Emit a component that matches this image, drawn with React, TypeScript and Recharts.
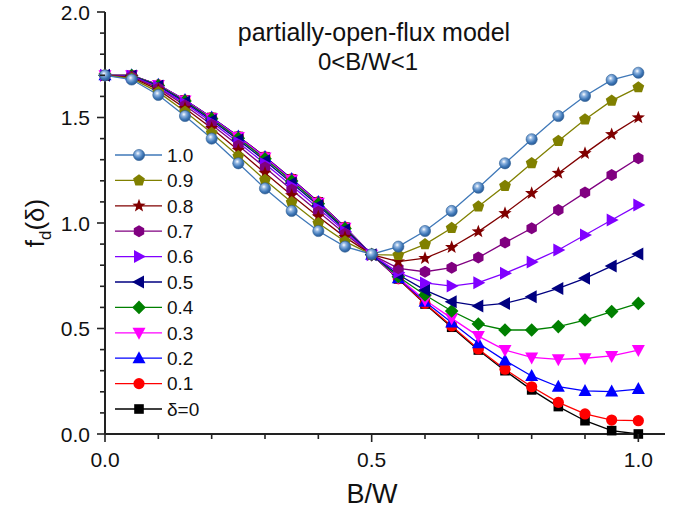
import React from 'react';
import { Legend, Line, LineChart, XAxis, YAxis } from 'recharts';

const xValues = [0, 0.05, 0.1, 0.15, 0.2, 0.25, 0.3, 0.35, 0.4, 0.45, 0.5, 0.55, 0.6, 0.65, 0.7, 0.75, 0.8, 0.85, 0.9, 0.95, 1.0];

const s10 = [1.70, 1.68, 1.607, 1.507, 1.40, 1.283, 1.164, 1.057, 0.962, 0.888, 0.852, 0.888, 0.962, 1.057, 1.167, 1.283, 1.397, 1.507, 1.602, 1.678, 1.712];
const s09 = [1.70, 1.685, 1.62, 1.528, 1.427, 1.317, 1.204, 1.098, 0.999, 0.913, 0.85, 0.848, 0.899, 0.976, 1.078, 1.176, 1.283, 1.389, 1.491, 1.580, 1.643];
const s08 = [1.70, 1.69, 1.631, 1.544, 1.449, 1.345, 1.237, 1.131, 1.03, 0.933, 0.85, 0.817, 0.833, 0.885, 0.959, 1.046, 1.141, 1.236, 1.330, 1.420, 1.499];
const s07 = [1.70, 1.693, 1.639, 1.557, 1.466, 1.367, 1.263, 1.157, 1.053, 0.949, 0.85, 0.785, 0.769, 0.788, 0.836, 0.907, 0.975, 1.062, 1.144, 1.227, 1.307];
const s06 = [1.70, 1.696, 1.644, 1.566, 1.478, 1.382, 1.281, 1.176, 1.07, 0.96, 0.85, 0.765, 0.716, 0.701, 0.717, 0.762, 0.815, 0.872, 0.943, 1.014, 1.085];
const s05 = [1.70, 1.697, 1.649, 1.573, 1.487, 1.394, 1.295, 1.19, 1.083, 0.968, 0.85, 0.755, 0.682, 0.627, 0.607, 0.619, 0.651, 0.690, 0.738, 0.796, 0.853];
const s04 = [1.70, 1.699, 1.652, 1.578, 1.494, 1.402, 1.304, 1.199, 1.091, 0.974, 0.85, 0.745, 0.659, 0.583, 0.521, 0.493, 0.493, 0.509, 0.540, 0.580, 0.619];
const s03 = [1.70, 1.70, 1.654, 1.581, 1.497, 1.407, 1.31, 1.205, 1.096, 0.978, 0.85, 0.740, 0.635, 0.548, 0.464, 0.398, 0.363, 0.354, 0.359, 0.370, 0.398];
const s02 = [1.70, 1.70, 1.655, 1.583, 1.50, 1.41, 1.313, 1.208, 1.099, 0.98, 0.85, 0.738, 0.627, 0.528, 0.430, 0.348, 0.275, 0.224, 0.204, 0.201, 0.213];
const s01 = [1.70, 1.70, 1.655, 1.583, 1.50, 1.41, 1.314, 1.209, 1.10, 0.98, 0.85, 0.736, 0.619, 0.512, 0.403, 0.307, 0.224, 0.150, 0.095, 0.066, 0.063];
const s00 = [1.70, 1.70, 1.655, 1.583, 1.50, 1.41, 1.314, 1.209, 1.10, 0.98, 0.85, 0.735, 0.616, 0.506, 0.398, 0.300, 0.209, 0.130, 0.063, 0.016, 0.0];

const xTicks = [0, 0.1, 0.2, 0.3, 0.4, 0.5, 0.6, 0.7, 0.8, 0.9, 1.0];
const yTicks = [0, 0.1, 0.2, 0.3, 0.4, 0.5, 0.6, 0.7, 0.8, 0.9, 1.0, 1.1, 1.2, 1.3, 1.4, 1.5, 1.6, 1.7, 1.8, 1.9, 2.0];
const xMajor = [0, 0.5, 1.0];
const yMajor = [0, 0.5, 1.0, 1.5, 2.0];

type Shape = 'sphere' | 'pentagon' | 'star' | 'hexagon' | 'right' | 'left' | 'diamond' | 'down' | 'up' | 'circle' | 'square';

// legend order, top to bottom
const series: { key: string; name: string; color: string; shape: Shape; values: number[] }[] = [
  { key: 's10', name: '1.0', color: '#3f78b8', shape: 'sphere', values: s10 },
  { key: 's09', name: '0.9', color: '#808000', shape: 'pentagon', values: s09 },
  { key: 's08', name: '0.8', color: '#800000', shape: 'star', values: s08 },
  { key: 's07', name: '0.7', color: '#800080', shape: 'hexagon', values: s07 },
  { key: 's06', name: '0.6', color: '#8000ff', shape: 'right', values: s06 },
  { key: 's05', name: '0.5', color: '#000080', shape: 'left', values: s05 },
  { key: 's04', name: '0.4', color: '#008000', shape: 'diamond', values: s04 },
  { key: 's03', name: '0.3', color: '#ff00ff', shape: 'down', values: s03 },
  { key: 's02', name: '0.2', color: '#0000ff', shape: 'up', values: s02 },
  { key: 's01', name: '0.1', color: '#ff0000', shape: 'circle', values: s01 },
  { key: 's00', name: 'δ=0', color: '#000000', shape: 'square', values: s00 },
];

const data = xValues.map((x, i) => {
  const row: Record<string, number> = { x };
  series.forEach((s) => {
    row[s.key] = s.values[i];
  });
  return row;
});

const FONT = '"Liberation Sans", Arial, Helvetica, sans-serif';

const poly = (cx: number, cy: number, n: number, r: number, start: number) =>
  Array.from({ length: n }, (_, k) => {
    const a = ((start + (360 / n) * k) * Math.PI) / 180;
    return `${cx + r * Math.cos(a)},${cy + r * Math.sin(a)}`;
  }).join(' ');

const starPts = (cx: number, cy: number, ro: number, ri: number) =>
  Array.from({ length: 10 }, (_, k) => {
    const a = ((-90 + 36 * k) * Math.PI) / 180;
    const r = k % 2 === 0 ? ro : ri;
    return `${cx + r * Math.cos(a)},${cy + r * Math.sin(a)}`;
  }).join(' ');

const Marker = ({ shape, cx, cy, color }: { shape: Shape; cx: number; cy: number; color: string }) => {
  switch (shape) {
    case 'sphere':
      return <circle cx={cx} cy={cy} r={5.6} fill="url(#sphereGrad)" stroke="#2f5f96" strokeWidth={0.6} />;
    case 'pentagon':
      return <polygon points={poly(cx, cy, 5, 6.2, -90)} fill={color} />;
    case 'star':
      return <polygon points={starPts(cx, cy, 7, 2.9)} fill={color} />;
    case 'hexagon':
      return <polygon points={poly(cx, cy, 6, 6, -90)} fill={color} />;
    case 'right':
      return <polygon points={`${cx + 7},${cy} ${cx - 5},${cy - 6.5} ${cx - 5},${cy + 6.5}`} fill={color} />;
    case 'left':
      return <polygon points={`${cx - 7},${cy} ${cx + 5},${cy - 6.5} ${cx + 5},${cy + 6.5}`} fill={color} />;
    case 'diamond':
      return <polygon points={`${cx},${cy - 6.8} ${cx + 6.8},${cy} ${cx},${cy + 6.8} ${cx - 6.8},${cy}`} fill={color} />;
    case 'down':
      return <polygon points={`${cx - 6.5},${cy - 5} ${cx + 6.5},${cy - 5} ${cx},${cy + 7}`} fill={color} />;
    case 'up':
      return <polygon points={`${cx - 6.5},${cy + 5} ${cx + 6.5},${cy + 5} ${cx},${cy - 7}`} fill={color} />;
    case 'circle':
      return <circle cx={cx} cy={cy} r={5.6} fill={color} />;
    default:
      return <rect x={cx - 4.8} y={cy - 4.8} width={9.6} height={9.6} fill={color} />;
  }
};

const near = (v: number, list: number[]) => list.some((m) => Math.abs(m - v) < 1e-6);

const XTick = (props: any) => {
  const { x, y, payload } = props;
  const major = near(payload.value, xMajor);
  return (
    <g>
      <line x1={x} y1={y} x2={x} y2={y + (major ? 8 : 5)} stroke="#222" strokeWidth={1.6} />
      {major && (
        <text x={x} y={y + 33} textAnchor="middle" fontSize={21} fill="#111" fontFamily={FONT}>
          {payload.value.toFixed(1)}
        </text>
      )}
    </g>
  );
};

const YTick = (props: any) => {
  const { x, y, payload } = props;
  const major = near(payload.value, yMajor);
  return (
    <g>
      <line x1={x - (major ? 8 : 5)} y1={y} x2={x} y2={y} stroke="#222" strokeWidth={1.6} />
      {major && (
        <text x={x - 15} y={y} dy="0.36em" textAnchor="end" fontSize={21} fill="#111" fontFamily={FONT}>
          {payload.value.toFixed(1)}
        </text>
      )}
    </g>
  );
};

const LegendBox = () => (
  <svg width={90} height={285} style={{ display: 'block' }}>
    {series.map((s, i) => {
      const cy = 13 + i * 25.4;
      return (
        <g key={s.key}>
          <line x1={3} y1={cy} x2={50} y2={cy} stroke={s.color} strokeWidth={1.3} />
          <Marker shape={s.shape} cx={27} cy={cy} color={s.color} />
          <text x={55} y={cy} dy="0.36em" fontSize={19} fill="#111" fontFamily={FONT}>
            {s.name}
          </text>
        </g>
      );
    })}
  </svg>
);

export default function App() {
  return (
    <div style={{ position: 'absolute', left: 0, top: 0, width: 690, height: 513, background: '#fff' }}>
      <LineChart
        width={690}
        height={513}
        data={data}
        margin={{ top: 12, right: 25, bottom: 49, left: 45 }}
        style={{ fontFamily: FONT }}
      >
        <defs>
          <radialGradient id="sphereGrad" cx="40%" cy="35%" r="65%">
            <stop offset="0%" stopColor="#ffffff" />
            <stop offset="30%" stopColor="#8fb4e0" />
            <stop offset="70%" stopColor="#3f78b8" />
            <stop offset="100%" stopColor="#2a5a94" />
          </radialGradient>
        </defs>
        <XAxis
          type="number"
          dataKey="x"
          domain={[0, 1.05]}
          ticks={xTicks}
          interval={0}
          height={30}
          tickSize={0}
          tickMargin={0}
          tickLine={false}
          axisLine={{ stroke: '#222', strokeWidth: 2 }}
          tick={<XTick />}
          label={{
            content: () => (
              <text x={372} y={503} textAnchor="middle" fontSize={27} fill="#111" fontFamily={FONT}>
                B/W
              </text>
            ),
          }}
        />
        <YAxis
          type="number"
          domain={[0, 2]}
          ticks={yTicks}
          interval={0}
          width={60}
          tickSize={0}
          tickMargin={0}
          tickLine={false}
          axisLine={{ stroke: '#222', strokeWidth: 2 }}
          tick={<YTick />}
          label={{
            content: () => (
              <text transform="translate(44,223) rotate(-90)" textAnchor="middle" fontSize={26} fill="#111" fontFamily={FONT}>
                f
                <tspan fontSize={17} dy={7}>d</tspan>
                <tspan dy={-7}>(δ)</tspan>
              </text>
            ),
          }}
        />
        <Legend
          layout="horizontal"
          verticalAlign="middle"
          align="center"
          wrapperStyle={{ left: 112, top: 142, width: 90, height: 285 }}
          content={() => <LegendBox />}
        />
        {[...series].reverse().map((s) => (
          <Line
            key={s.key}
            dataKey={s.key}
            name={s.name}
            stroke={s.color}
            strokeWidth={1.3}
            isAnimationActive={false}
            dot={(p: any) => <Marker key={`${s.key}-${p.index}`} shape={s.shape} cx={p.cx} cy={p.cy} color={s.color} />}
            activeDot={false}
          />
        ))}
        <text x={374} y={41} textAnchor="middle" fontSize={25} fill="#111" fontFamily={FONT}>
          partially-open-flux model
        </text>
        <text x={368} y={70} textAnchor="middle" fontSize={24} fill="#111" fontFamily={FONT}>
          0&lt;B/W&lt;1
        </text>
      </LineChart>
    </div>
  );
}
